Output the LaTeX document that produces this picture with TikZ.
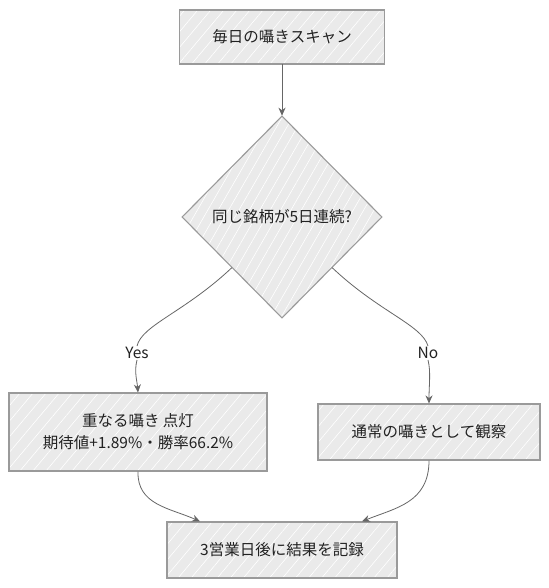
\documentclass[tikz,border=0pt]{standalone}
\usepackage{fontspec}
\setmainfont{Noto Sans CJK JP}
\usetikzlibrary{shapes.geometric,arrows.meta,patterns.meta,calc}
\definecolor{boxfill}{HTML}{EAEAEA}
\definecolor{boxline}{HTML}{9A9A9A}
\definecolor{txt}{HTML}{222222}
\definecolor{edge}{HTML}{666666}
\begin{document}
\begin{tikzpicture}[x=1pt,y=-1pt,
  every node/.style={font=\fontsize{15.5}{22}\selectfont, text=txt},
  boxnode/.style={draw=boxline, line width=1.1pt, preaction={fill=boxfill},
    pattern={Lines[angle=50,distance=10pt,line width=0.6pt]}, pattern color=white,
    rectangle, inner sep=0pt, align=center},
  decision/.style={draw=boxline, line width=1.1pt, preaction={fill=boxfill},
    pattern={Lines[angle=60,distance=9pt,line width=0.6pt]}, pattern color=white,
    diamond, aspect=1, inner sep=0pt, minimum width=200pt, minimum height=202pt},
  conn/.style={draw=edge, line width=0.8pt},
  arr/.style={conn, -{Stealth[length=8pt,width=7pt]}},
  lbl/.style={fill=white, inner sep=1pt}
]
\fill[white] (0,0) rectangle (548,588);
\useasboundingbox (0,0) rectangle (548,588);

\node[boxnode, minimum width=205pt, minimum height=54pt] (scan) at (282,37) {毎日の囁きスキャン};
\node[decision] (dia) at (282,217) {同じ銘柄が5日連続?};
\node[boxnode, minimum width=258pt, minimum height=78pt] (yes) at (138,432) {重なる囁き 点灯\\期待値+1.89\%・勝率66.2\%};
\node[boxnode, minimum width=222pt, minimum height=56pt] (no) at (429,432) {通常の囁きとして観察};
\node[boxnode, minimum width=230pt, minimum height=56pt] (rec) at (282,550) {3営業日後に結果を記録};

\node[lbl] (ly) at (137,353) {Yes};
\node[lbl] (ln) at (428,353) {No};

\draw[arr] (scan.south) -- (dia.north);
\draw[conn] (dia.south west) .. controls (185,312) and (142,325) .. (ly.north);
\draw[arr] (ly.south) .. controls (134,372) and (137,380) .. (yes.north);
\draw[conn] (dia.south east) .. controls (379,312) and (422,325) .. (ln.north);
\draw[arr] (ln.south) .. controls (431,372) and (429,385) .. (no.north);
\draw[arr] (yes.south) .. controls (137,505) and (170,508) .. ([xshift=-82pt]rec.north);
\draw[arr] (no.south) .. controls (429,503) and (395,508) .. ([xshift=80pt]rec.north);
\end{tikzpicture}
\end{document}
